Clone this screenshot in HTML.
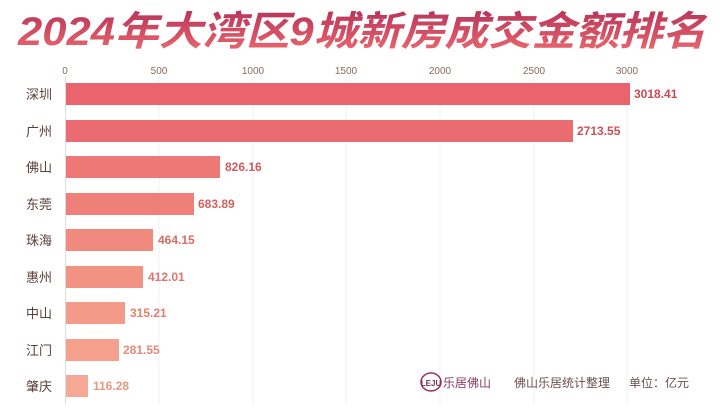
<!DOCTYPE html><html><head><meta charset="utf-8"><style>body{margin:0;background:#fff}svg{display:block}</style></head><body>
<svg width="720" height="414" xmlns="http://www.w3.org/2000/svg" font-family="Liberation Sans, Noto Sans CJK SC, sans-serif">
<defs><linearGradient id="t" x1="0" y1="0" x2="0" y2="1"><stop offset="0" stop-color="#b8345a"/><stop offset="1" stop-color="#ec6a6e"/></linearGradient></defs>
<rect width="720" height="414" fill="#fff"/>
<text x="18" y="45" font-size="40" font-weight="bold" font-style="italic" fill="url(#t)" textLength="688" lengthAdjust="spacingAndGlyphs" font-family="Liberation Sans, Noto Sans CJK SC, sans-serif">2024年大湾区9城新房成交金额排名</text>
<g stroke="#f0f0f0" stroke-width="1">
<line x1="159" y1="76" x2="159" y2="404"/><line x1="253" y1="76" x2="253" y2="404"/><line x1="346" y1="76" x2="346" y2="404"/><line x1="440" y1="76" x2="440" y2="404"/><line x1="534" y1="76" x2="534" y2="404"/><line x1="627" y1="76" x2="627" y2="404"/></g>
<line x1="65.5" y1="76" x2="65.5" y2="404" stroke="#ddd"/>
<g font-size="10" fill="#8a6a5a" text-anchor="middle"><text x="65" y="74">0</text><text x="159" y="74">500</text><text x="253" y="74">1000</text><text x="346" y="74">1500</text><text x="440" y="74">2000</text><text x="534" y="74">2500</text><text x="627" y="74">3000</text></g>
<g font-size="13" fill="#5a4038" text-anchor="end">
<text x="52" y="99">深圳</text><text x="52" y="136">广州</text><text x="52" y="172">佛山</text><text x="52" y="209">东莞</text><text x="52" y="245">珠海</text><text x="52" y="282">惠州</text><text x="52" y="318">中山</text><text x="52" y="355">江门</text><text x="52" y="391">肇庆</text></g>
<g>
<rect x="66" y="83" width="564" height="22" fill="#e9646c"/>
<rect x="66" y="120" width="507" height="22" fill="#eb6c70"/>
<rect x="66" y="156" width="154" height="22" fill="#ed7876"/>
<rect x="66" y="193" width="128" height="22" fill="#ef8079"/>
<rect x="66" y="229" width="87" height="22" fill="#f08a7e"/>
<rect x="66" y="266" width="77" height="22" fill="#f29282"/>
<rect x="66" y="302" width="59" height="22" fill="#f39a88"/>
<rect x="66" y="339" width="53" height="22" fill="#f4a08c"/>
<rect x="66" y="375" width="22" height="22" fill="#f5a893"/>
</g>
<g font-size="12" font-weight="bold">
<text x="634" y="98" fill="#c84a55">3018.41</text>
<text x="577" y="135" fill="#cc5058">2713.55</text>
<text x="225" y="171" fill="#d05a5c">826.16</text>
<text x="198" y="208" fill="#d4625f">683.89</text>
<text x="158" y="244" fill="#d86c66">464.15</text>
<text x="148" y="281" fill="#dc766c">412.01</text>
<text x="130" y="317" fill="#e08070">315.21</text>
<text x="123" y="354" fill="#e48a78">281.55</text>
<text x="93" y="390" fill="#e8987f">116.28</text>
</g>
<g font-size="12" fill="#7a3058">
<ellipse cx="431" cy="382" rx="10" ry="9" fill="none" stroke="#a03060" stroke-width="1.5"/>
<text x="431" y="386" font-size="8" text-anchor="middle" font-weight="bold">LEJU</text>
<text x="443" y="387" fill="#8a3a60">乐居佛山</text>
<text x="514" y="387" fill="#6a5050">佛山乐居统计整理</text>
<text x="629" y="387" fill="#6a5050">单位：亿元</text>
</g>
</svg></body></html>
